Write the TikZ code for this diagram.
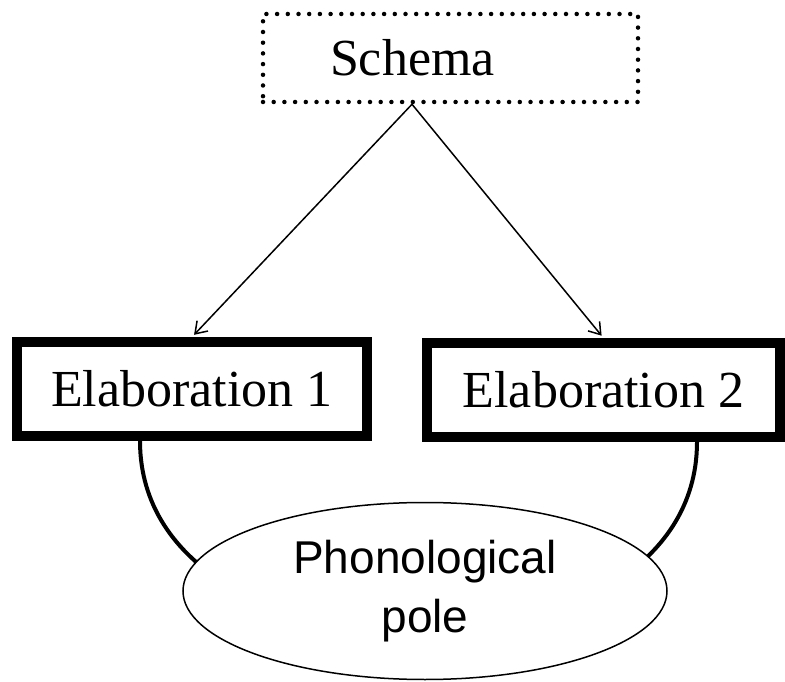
\documentclass[tikz,border=0pt]{standalone}
\usepackage{fontspec}
\setmainfont{Liberation Serif}
\setsansfont{Liberation Sans}
\usetikzlibrary{arrows.meta,shapes.geometric}

\tikzset{
  elabbox/.style={rectangle, draw=black, line width=10pt, minimum height=94pt, inner sep=0pt, font=\fontsize{52}{60}\selectfont},
  isa/.style={line width=1.5pt, -{Straight Barb[length=11pt,width=15pt]}, shorten >=3pt},
  link/.style={line width=4pt}
}

\begin{document}
\begin{tikzpicture}[x=1pt,y=1pt]
        \useasboundingbox (0,0) rectangle (785,681);

        \node[rectangle, draw=black, line width=4.5pt, dash pattern=on 0pt off 10.7pt, line cap=round, minimum width=375pt, minimum height=88pt, text width=241pt, inner xsep=67pt, inner ysep=0pt, align=left, font=\fontsize{52}{60}\selectfont] (schema) at(450.5,623){Schema};
        \node[elabbox, minimum width=350pt] (elab1) at(192,292){Elaboration 1};
        \node[elabbox, minimum width=353pt] (elab2) at(603.5,291){Elaboration 2};

        \coordinate (schema-foot) at ([xshift=-38.5pt]schema.south);
        \coordinate (elab1-foot) at ([xshift=-52pt]elab1.south);
        \coordinate (elab2-foot) at ([xshift=93.5pt]elab2.south);

        \draw [isa] (schema-foot) -- (elab1.north);
        \draw [isa] (schema-foot) -- (elab2.north);

        \draw [link] (elab1-foot) to[out=-90, in=-90, looseness=1.17] (elab2-foot);

        \node[ellipse, draw=black, fill=white, line width=1.5pt, minimum width=484pt, minimum height=177pt, align=center, font=\sffamily\fontsize{46}{59}\selectfont] (pole) at(425,90){Phonological\\pole};

\end{tikzpicture}
\end{document}
